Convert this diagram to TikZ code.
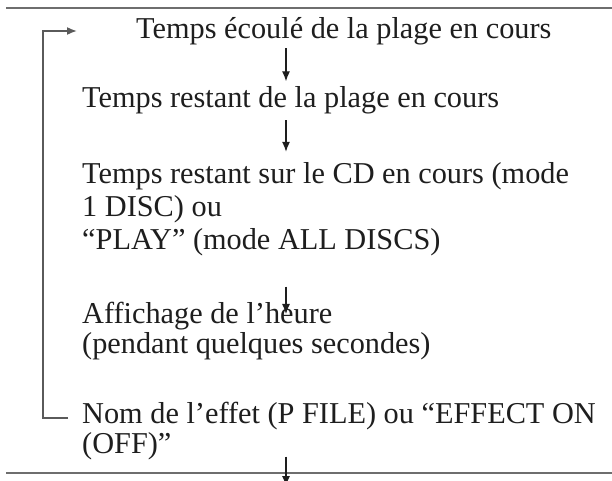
\documentclass[tikz,border=0pt]{standalone}
\usepackage{fontspec}
\setmainfont{Liberation Serif}
\usepackage{xcolor}
\definecolor{textDark}{HTML}{1E1E1E}
\definecolor{ruleGray}{HTML}{6E6E6E}
\definecolor{loopGray}{HTML}{5A5A5A}
\usepackage{tikz}
\usetikzlibrary{arrows.meta,positioning,calc}
\tikzset{
  stepText/.style={
    inner sep=0pt,
    align=left,
    anchor=base west,
    text=textDark,
    font=\fontsize{30.3}{30}\selectfont
 },
  arrowLine/.style={
    -{Latex[length=10pt,width=8pt]},
    line width=1.1pt,
    color=textDark
 },
  loopLine/.style={
    -{Latex[length=10pt,width=8pt]},
    line width=1.6pt,
    color=loopGray
 },
  ruleLine/.style={
    line width=2pt,
    color=ruleGray
 }
}

\begin{document}
\begin{tikzpicture}[x=1pt,y=1pt]
            \useasboundingbox (0,0) rectangle (612,-481);

            % Top and bottom rules
            \coordinate (ruleTopL) at (6,-8);
            \coordinate (ruleTopR) at (612,-8);
            \coordinate (ruleBotL) at (6,-473);
            \coordinate (ruleBotR) at (612,-473);
            \draw[ruleLine] (ruleTopL) -- (ruleTopR);
            \draw[ruleLine] (ruleBotL) -- (ruleBotR);

            % Display steps (base = last line)
            \node[stepText] (ecoule) at (136,-39) {Temps écoulé de la plage en cours};
            \node[stepText] (restant) at (82,-108) {Temps restant de la plage en cours};
            \node[stepText, font=\fontsize{30.3}{33}\selectfont] (disque) at (82,-249) {Temps restant sur le CD en cours (mode\\1 DISC) ou\\“PLAY” (mode ALL DISCS)};
            \node[stepText] (heure) at (82,-353) {Affichage de l’heure\\(pendant quelques secondes)};
            \node[stepText] (effet) at (82,-453) {Nom de l’effet (P FILE) ou “EFFECT ON\\(OFF)”};

            % Arrows down the column
            \coordinate (axis) at (286,0);
            \coordinate (exitTip) at (286,-486);
            \draw[arrowLine] ($(ecoule.south -| axis)+(0,-2.5)$) -- ($(restant.north -| axis)+(0,5.5)$);
            \draw[arrowLine] ($(restant.south -| axis)+(0,-5.5)$) -- ($(disque.north -| axis)+(0,10)$);
            \draw[arrowLine] ($(disque.south -| axis)+(0,-31)$) -- ($(heure.north -| axis)+(0,-12.5)$);
            \draw[arrowLine] ($(effet.south -| axis)+(0,3)$) -- (exitTip);

            % Loop back to the first step
            \coordinate (loopOut) at ($(effet.base west)+(-14,35)$);
            \coordinate (loopIn) at ($(ecoule.base west)+(-59,8)$);
            \coordinate (loopTop) at (43,-31);
            \draw[loopLine] (loopOut) -| (loopTop) -- (loopIn);

        \end{tikzpicture}
\end{document}
